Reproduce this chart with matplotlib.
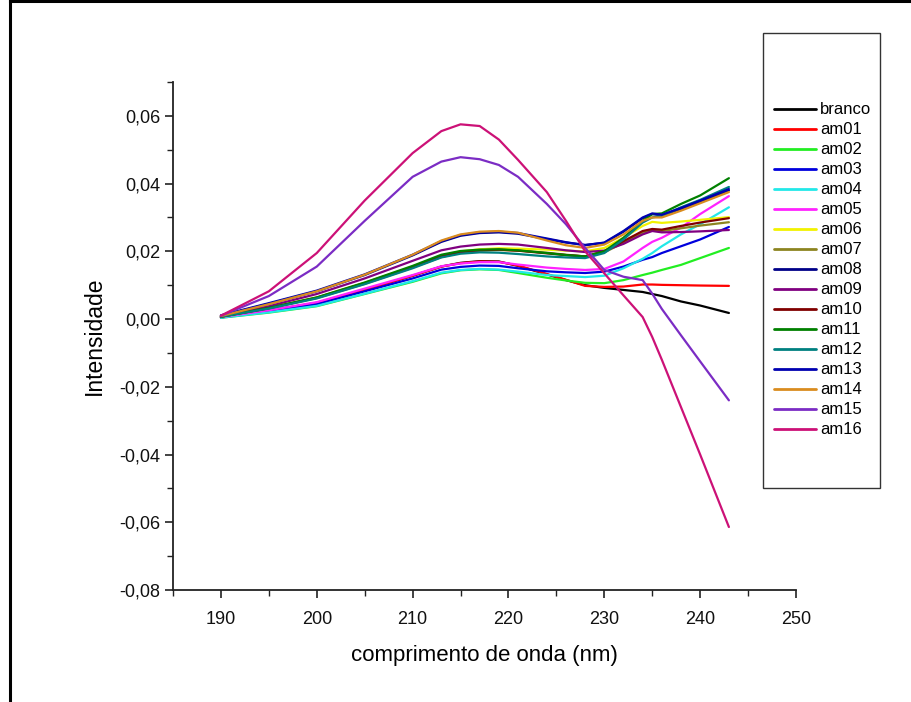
import matplotlib
matplotlib.use("Agg")
import matplotlib.pyplot as plt
from matplotlib.patches import Rectangle
from matplotlib.lines import Line2D
from matplotlib.ticker import MultipleLocator, FuncFormatter

wavelength = [190, 195, 200, 205, 210, 213, 215, 217, 219, 221, 224, 226, 228, 230, 232, 234, 235, 236, 238, 240, 243]

branco = [0.0005, 0.0025, 0.0048, 0.0087, 0.0128, 0.0155, 0.0166, 0.0171, 0.0170, 0.0157, 0.0132, 0.0115, 0.0100, 0.0092, 0.0086, 0.0080, 0.0074, 0.0068, 0.0052, 0.0040, 0.0018]
am01 = [0.0005, 0.0024, 0.0047, 0.0086, 0.0128, 0.0155, 0.0165, 0.0170, 0.0169, 0.0158, 0.0133, 0.0116, 0.0098, 0.0095, 0.0096, 0.0102, 0.0102, 0.0101, 0.0100, 0.0099, 0.0098]
am02 = [0.0004, 0.0019, 0.0038, 0.0074, 0.0110, 0.0135, 0.0144, 0.0147, 0.0145, 0.0136, 0.0122, 0.0114, 0.0107, 0.0106, 0.0115, 0.0130, 0.0137, 0.0145, 0.0160, 0.0180, 0.0210]
am03 = [0.0005, 0.0022, 0.0044, 0.0082, 0.0120, 0.0146, 0.0154, 0.0158, 0.0157, 0.0150, 0.0141, 0.0138, 0.0136, 0.0140, 0.0155, 0.0175, 0.0183, 0.0195, 0.0215, 0.0235, 0.0272]
am04 = [0.0004, 0.0020, 0.0039, 0.0075, 0.0112, 0.0137, 0.0145, 0.0148, 0.0146, 0.0140, 0.0130, 0.0127, 0.0124, 0.0128, 0.0150, 0.0178, 0.0195, 0.0215, 0.0250, 0.0280, 0.0330]
am05 = [0.0006, 0.0026, 0.0050, 0.0090, 0.0130, 0.0156, 0.0164, 0.0168, 0.0168, 0.0161, 0.0152, 0.0148, 0.0145, 0.0148, 0.0170, 0.0210, 0.0228, 0.0240, 0.0270, 0.0310, 0.0363]
am06 = [0.0007, 0.0033, 0.0064, 0.0107, 0.0155, 0.0187, 0.0200, 0.0206, 0.0209, 0.0208, 0.0205, 0.0202, 0.0200, 0.0210, 0.0240, 0.0275, 0.0287, 0.0284, 0.0288, 0.0293, 0.0301]
am07 = [0.0007, 0.0032, 0.0062, 0.0104, 0.0152, 0.0183, 0.0196, 0.0202, 0.0204, 0.0202, 0.0196, 0.0190, 0.0185, 0.0197, 0.0225, 0.0255, 0.0262, 0.0260, 0.0268, 0.0276, 0.0286]
am08 = [0.0010, 0.0045, 0.0082, 0.0130, 0.0188, 0.0228, 0.0246, 0.0254, 0.0256, 0.0252, 0.0236, 0.0226, 0.0219, 0.0225, 0.0258, 0.0298, 0.0310, 0.0306, 0.0325, 0.0345, 0.0380]
am09 = [0.0008, 0.0038, 0.0074, 0.0120, 0.0172, 0.0203, 0.0214, 0.0220, 0.0222, 0.0220, 0.0210, 0.0203, 0.0198, 0.0202, 0.0222, 0.0250, 0.0260, 0.0256, 0.0257, 0.0259, 0.0263]
am10 = [0.0007, 0.0032, 0.0063, 0.0106, 0.0154, 0.0186, 0.0198, 0.0203, 0.0205, 0.0202, 0.0194, 0.0189, 0.0185, 0.0200, 0.0230, 0.0260, 0.0266, 0.0264, 0.0275, 0.0285, 0.0298]
am11 = [0.0007, 0.0033, 0.0064, 0.0108, 0.0157, 0.0190, 0.0201, 0.0205, 0.0206, 0.0203, 0.0195, 0.0189, 0.0185, 0.0200, 0.0240, 0.0290, 0.0310, 0.0312, 0.0340, 0.0365, 0.0416]
am12 = [0.0007, 0.0031, 0.0061, 0.0103, 0.0150, 0.0182, 0.0193, 0.0197, 0.0196, 0.0192, 0.0185, 0.0182, 0.0180, 0.0195, 0.0235, 0.0285, 0.0300, 0.0305, 0.0330, 0.0352, 0.0390]
am13 = [0.0011, 0.0047, 0.0084, 0.0132, 0.0190, 0.0230, 0.0248, 0.0256, 0.0258, 0.0254, 0.0238, 0.0227, 0.0218, 0.0226, 0.0260, 0.0300, 0.0312, 0.0308, 0.0328, 0.0350, 0.0384]
am14 = [0.0009, 0.0044, 0.0082, 0.0131, 0.0190, 0.0232, 0.0250, 0.0258, 0.0260, 0.0255, 0.0232, 0.0218, 0.0210, 0.0220, 0.0250, 0.0290, 0.0300, 0.0300, 0.0320, 0.0342, 0.0375]
am15 = [0.0010, 0.0068, 0.0155, 0.0290, 0.0420, 0.0465, 0.0478, 0.0472, 0.0455, 0.0420, 0.0340, 0.0280, 0.0210, 0.0145, 0.0125, 0.0115, 0.0075, 0.0030, -0.0048, -0.0125, -0.0240]
am16 = [0.0010, 0.0082, 0.0195, 0.0350, 0.0490, 0.0555, 0.0575, 0.0570, 0.0530, 0.0470, 0.0375, 0.0290, 0.0200, 0.0135, 0.0070, 0.0006, -0.0053, -0.0120, -0.0260, -0.0400, -0.0614]

series_names = ["branco", "am01", "am02", "am03", "am04", "am05", "am06", "am07",
                "am08", "am09", "am10", "am11", "am12", "am13", "am14", "am15", "am16"]
series_values = [branco, am01, am02, am03, am04, am05, am06, am07,
                 am08, am09, am10, am11, am12, am13, am14, am15, am16]
series_colors = ["#000000", "#FF0000", "#22EE22", "#0000DD", "#22E8E8", "#FF22FF",
                 "#F2F200", "#8C8420", "#000088", "#800080", "#800000", "#008000",
                 "#008080", "#0000B0", "#D98C1F", "#7B2CC4", "#CC1177"]

plt.rcParams['font.family'] = ['Liberation Sans', 'DejaVu Sans']

W, H = 912, 702
fig = plt.figure(figsize=(W / 100, H / 100), dpi=100)
ax = fig.add_axes([173 / W, 1 - 590 / H, (796 - 173) / W, (590 - 82) / H])

for name, vals, col in zip(series_names, series_values, series_colors):
    ax.plot(wavelength, vals, color=col, lw=1.6, label=name, solid_capstyle='round')

ax.set_xlim(185, 250)
ax.set_ylim(-0.08, 0.07)
ax.xaxis.set_major_locator(MultipleLocator(10))
ax.xaxis.set_minor_locator(MultipleLocator(5))
ax.yaxis.set_major_locator(MultipleLocator(0.02))
ax.yaxis.set_minor_locator(MultipleLocator(0.01))

def xfmt(v, p):
    return "" if v < 189 else f"{v:.0f}"
def yfmt(v, p):
    if v > 0.065:
        return ""
    s = f"{v:.2f}".replace(".", ",")
    if s == "-0,00":
        s = "0,00"
    return s
ax.xaxis.set_major_formatter(FuncFormatter(xfmt))
ax.yaxis.set_major_formatter(FuncFormatter(yfmt))

for side in ["top", "right"]:
    ax.spines[side].set_visible(False)
for side in ["left", "bottom"]:
    ax.spines[side].set_linewidth(1.3)
    ax.spines[side].set_color("#222222")

ax.tick_params(which="major", direction="out", length=6, width=1.2, colors="#222222",
               labelsize=13, labelcolor="#111111")
ax.tick_params(which="minor", direction="out", length=4, width=1.0, colors="#222222")
ax.tick_params(axis="x", pad=9)
ax.tick_params(axis="y", pad=3)

ax.set_xlabel("comprimento de onda (nm)", fontsize=16, labelpad=12)
ax.set_ylabel("Intensidade", fontsize=16.5, labelpad=10)

# legend box
fig.patches.append(Rectangle((763 / W, 1 - 488 / H), (880 - 763) / W, (488 - 33) / H,
                             transform=fig.transFigure, fill=False, edgecolor="#333333",
                             lw=1.0))
handles, labels = ax.get_legend_handles_labels()
leg = fig.legend(handles, labels, loc="upper left",
                 bbox_to_anchor=(774 / W, 1 - 102.5 / H), frameon=False,
                 fontsize=12, handlelength=2.5, handletextpad=0.28,
                 labelspacing=0.3, borderpad=0.0, borderaxespad=0.0)
for l in leg.get_lines():
    l.set_linewidth(2.0)

# figure border (left and top)
fig.add_artist(Line2D([10.5 / W, 10.5 / W], [0, 1], transform=fig.transFigure,
                      color="black", lw=2.2))
fig.add_artist(Line2D([10.5 / W, 1], [1 - 1.2 / H, 1 - 1.2 / H], transform=fig.transFigure,
                      color="black", lw=2.2))

fig.savefig("out.png", dpi=100)
